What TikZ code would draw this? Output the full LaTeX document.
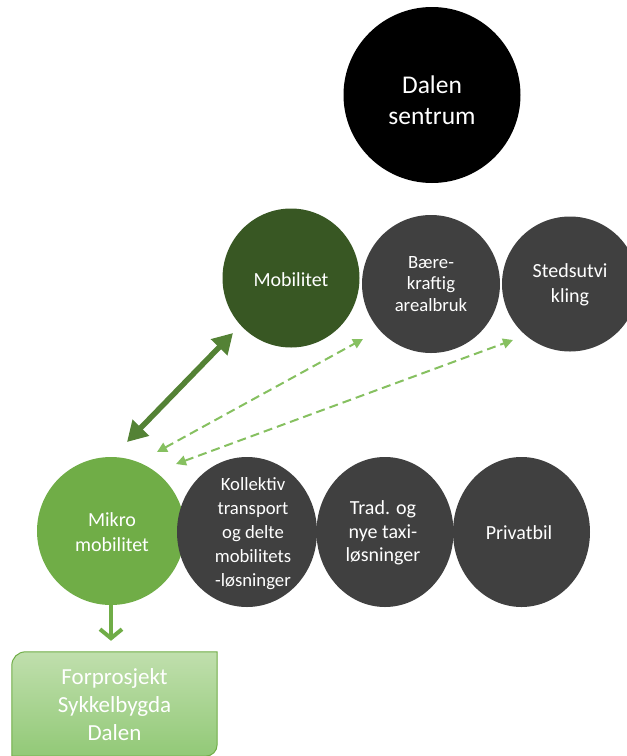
\documentclass[tikz,border=0pt]{standalone}
\usepackage{fontspec}
\setmainfont{Carlito}
\usetikzlibrary{arrows.meta,shapes.geometric,calc}
\definecolor{dalenblack}{HTML}{000000}
\definecolor{mobgreen}{HTML}{385723}
\definecolor{greyc}{HTML}{404040}
\definecolor{mikrogreen}{HTML}{70AD47}
\definecolor{thickgreen}{HTML}{548235}
\definecolor{dashgreen}{HTML}{86C060}
\definecolor{boxtop}{HTML}{C0DFAD}
\definecolor{boxbot}{HTML}{92C977}
\begin{document}
\begin{tikzpicture}[x=1pt,y=-1pt,
  disc/.style={ellipse, inner sep=0pt, fill=#1, draw=none},
  txt/.style={align=center, text=white, inner sep=0pt, font=\fontsize{20}{24.5}\selectfont},
  dasharrow/.style={dashgreen, line width=2pt, dash pattern=on 9pt off 5pt,
     {Triangle[length=10pt,width=10pt]}-{Triangle[length=10pt,width=10pt]}},
  thickarrow/.style={thickgreen, line width=5.5pt,
     {Triangle[length=20pt,width=22pt]}-{Triangle[length=20pt,width=22pt]}},
  downarrow/.style={mikrogreen, line width=4pt, -{Straight Barb[length=9pt,width=22pt]}}
]
\useasboundingbox (0,0) rectangle (627,756);
\clip (0,0) rectangle (627,756);

% top circle
\node[disc=dalenblack, minimum width=177pt, minimum height=176pt] (dalen) at (432,95) {};
\node[txt, font=\fontsize{25.5}{31}\selectfont] (dalenT) at ($(dalen)+(0,5)$) {Dalen\\sentrum};

% upper row
\node[disc=mobgreen, minimum width=137pt, minimum height=139pt] (mob) at (291,278) {};
\node[disc=greyc, minimum width=138pt, minimum height=138pt] (baere) at (431,284) {};
\node[disc=greyc, minimum width=136pt, minimum height=135pt] (sted) at (570,284) {};
\node[txt] (mobT) at ($(mob)+(0,2)$) {Mobilitet};
\node[txt, font=\fontsize{18.7}{21.5}\selectfont] (baereT) at (baere) {Bære-\\kraftig\\arealbruk};
\node[txt] (stedT) at ($(sted)+(0,1)$) {Stedsutvi\\kling};

% lower row
\node[disc=mikrogreen, minimum width=148pt, minimum height=148pt] (mikro) at (111,531) {};
\node[disc=greyc, minimum width=140pt, minimum height=150pt] (kol) at (247,532) {};
\node[disc=greyc, minimum width=137pt, minimum height=150pt] (trad) at (385,532) {};
\node[disc=greyc, minimum width=137pt, minimum height=150pt] (priv) at (521.5,532) {};
\node[txt] (mikroT) at ($(mikro)+(1,1)$) {Mikro\\mobilitet};
\node[txt, font=\fontsize{18.7}{24}\selectfont] (kolT) at ($(kol)+(6,1.5)$) {Kollektiv\\transport\\og delte\\mobilitets\\-løsninger};
\node[txt, font=\fontsize{20}{23.5}\selectfont] (tradT) at ($(trad)+(-2,1)$) {Trad. og\\nye taxi-\\løsninger};
\node[txt] (privT) at ($(priv)+(-2.5,1)$) {Privatbil};

% connectors
\coordinate (t1) at (127,442);
\coordinate (t2) at (233,333);
\coordinate (d1s) at (157,452);
\coordinate (d1e) at (363,339);
\coordinate (d2s) at (176,464);
\coordinate (d2e) at (513,340);
\draw[thickarrow] (t1) -- (t2);
\draw[dasharrow] (d1s) -- (d1e);
\draw[dasharrow] (d2s) -- (d2e);

% box
\node[minimum width=205pt, minimum height=104pt, inner sep=0pt] (box) at (114.5,704) {};
\path[draw=mikrogreen, line width=1pt, top color=boxtop, bottom color=boxbot]
  ($(box.south west)$) -- ($(box.north west)+(0,14)$)
  .. controls ($(box.north west)+(0,6)$) and ($(box.north west)+(6,0)$) .. ($(box.north west)+(14,0)$)
  -- (box.north east) -- ($(box.south east)+(0,-12)$)
  .. controls ($(box.south east)+(0,-5)$) and ($(box.south east)+(-5,0)$) .. ($(box.south east)+(-12,0)$)
  -- cycle;
\node[txt, font=\fontsize{23}{28}\selectfont] (boxT) at ($(box)+(0,1)$) {Forprosjekt\\Sykkelbygda\\Dalen};

\draw[downarrow, shorten >=11pt] (mikro.south) -- (mikro.south |- box.north);
\end{tikzpicture}
\end{document}
